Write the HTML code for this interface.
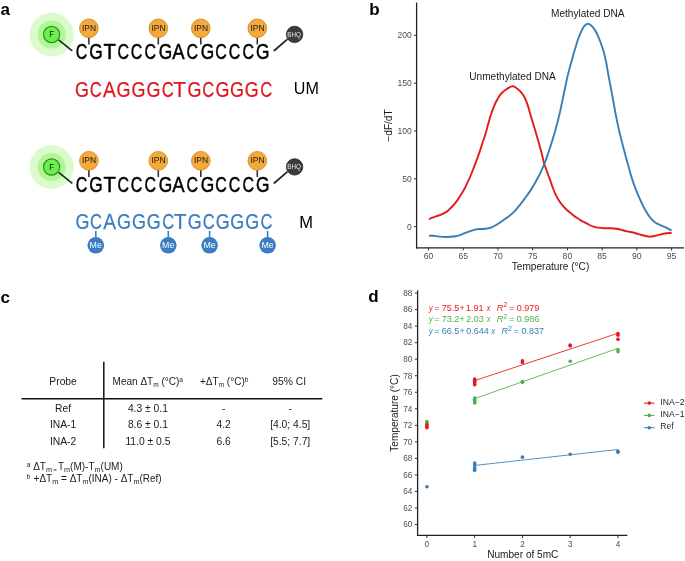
<!DOCTYPE html>
<html><head><meta charset="utf-8"><title>Figure</title><style>
html,body{margin:0;padding:0;background:#fff;overflow:hidden;width:685px;height:561px;}
svg{display:block;filter:blur(0.3px);font-family:"Liberation Sans", sans-serif;}
.pl{font-weight:bold;font-size:17px;fill:#000;}
.seq{font-size:20.5px;}
.lab{font-size:15.5px;fill:#000;}
.fl{font-size:9.2px;fill:#111;}
.ipn{font-size:8.5px;text-anchor:middle;fill:#1a1a1a;}
.bhq{font-size:6.3px;text-anchor:middle;fill:#e8e8e8;}
.me{font-size:9.8px;text-anchor:middle;fill:#fff;}
.tk{font-size:8.6px;fill:#4d4d4d;}
.tk2{font-size:8.2px;fill:#4d4d4d;}
.axl{font-size:10.1px;fill:#1a1a1a;}
.ann{font-size:10.1px;fill:#1a1a1a;}
.tb{font-size:10.3px;fill:#1a1a1a;}
.sub{font-size:6.5px;}
.sup{font-size:6.5px;}
.fn{font-size:10px;fill:#1a1a1a;}
.fsub{font-size:7.2px;}
.fsub2{font-size:6px;}
.fsup{font-size:6.5px;fill:#1a1a1a;}
.eq{font-size:8.6px;}
.esup{font-size:6px;}
.leg{font-size:8.6px;fill:#262626;}
</style></head>
<body><svg width="685" height="561" viewBox="0 0 685 561">
<text x="0.4" y="14.8" class="pl">a</text>
<text x="369.2" y="15.3" class="pl">b</text>
<text x="0.4" y="302.6" class="pl">c</text>
<text x="368.2" y="301.7" class="pl">d</text>
<circle cx="51.6" cy="34.5" r="22" fill="#dcfbcc"/>
<circle cx="51.6" cy="34.5" r="14" fill="#b2f594"/>
<line x1="58.6" y1="39.8" x2="72.3" y2="50.8" stroke="#1e2a1e" stroke-width="1.7"/>
<circle cx="51.6" cy="34.5" r="8.1" fill="#6cef4e" stroke="#2e8f22" stroke-width="1.2"/>
<text transform="translate(50.00,37.10) scale(0.85,1)" x="-0.75" class="fl">F</text>
<line x1="88.9" y1="36.0" x2="88.9" y2="44.5" stroke="#333" stroke-width="1.6"/>
<circle cx="88.9" cy="28.3" r="9.3" fill="#f5a93a" stroke="#dc8e26" stroke-width="1"/>
<text x="89.1" y="30.9" class="ipn">IPN</text>
<line x1="158.3" y1="36.0" x2="158.3" y2="44.5" stroke="#333" stroke-width="1.6"/>
<circle cx="158.3" cy="28.3" r="9.3" fill="#f5a93a" stroke="#dc8e26" stroke-width="1"/>
<text x="158.5" y="30.9" class="ipn">IPN</text>
<line x1="200.8" y1="36.0" x2="200.8" y2="44.5" stroke="#333" stroke-width="1.6"/>
<circle cx="200.8" cy="28.3" r="9.3" fill="#f5a93a" stroke="#dc8e26" stroke-width="1"/>
<text x="201.0" y="30.9" class="ipn">IPN</text>
<line x1="257.3" y1="36.0" x2="257.3" y2="44.5" stroke="#333" stroke-width="1.6"/>
<circle cx="257.3" cy="28.3" r="9.3" fill="#f5a93a" stroke="#dc8e26" stroke-width="1"/>
<text x="257.5" y="30.9" class="ipn">IPN</text>
<line x1="273.8" y1="51.0" x2="287.5" y2="39.2" stroke="#222" stroke-width="1.7"/>
<circle cx="294.6" cy="34.4" r="8.2" fill="#3c3c3c" stroke="#262626" stroke-width="0.8"/>
<text x="294.2" y="36.8" class="bhq">BHQ</text>
<text transform="translate(76.50,59.35) scale(0.7487,1)" x="-1.08" style="font-size:21.30px" fill="#000" stroke="#000" stroke-width="0.5">C</text>
<text transform="translate(90.10,59.35) scale(0.8126,1)" x="-1.07" style="font-size:21.30px" fill="#000" stroke="#000" stroke-width="0.5">G</text>
<text transform="translate(104.00,59.35) scale(0.9466,1)" x="-0.48" style="font-size:21.30px" fill="#000" stroke="#000" stroke-width="0.5">T</text>
<text transform="translate(118.20,59.35) scale(0.7487,1)" x="-1.08" style="font-size:21.30px" fill="#000" stroke="#000" stroke-width="0.5">C</text>
<text transform="translate(131.60,59.35) scale(0.7487,1)" x="-1.08" style="font-size:21.30px" fill="#000" stroke="#000" stroke-width="0.5">C</text>
<text transform="translate(145.40,59.35) scale(0.7487,1)" x="-1.08" style="font-size:21.30px" fill="#000" stroke="#000" stroke-width="0.5">C</text>
<text transform="translate(159.70,59.35) scale(0.8126,1)" x="-1.07" style="font-size:21.30px" fill="#000" stroke="#000" stroke-width="0.5">G</text>
<text transform="translate(172.30,59.35) scale(0.8709,1)" x="-0.04" style="font-size:21.30px" fill="#000" stroke="#000" stroke-width="0.5">A</text>
<text transform="translate(187.30,59.35) scale(0.7487,1)" x="-1.08" style="font-size:21.30px" fill="#000" stroke="#000" stroke-width="0.5">C</text>
<text transform="translate(201.50,59.35) scale(0.8126,1)" x="-1.07" style="font-size:21.30px" fill="#000" stroke="#000" stroke-width="0.5">G</text>
<text transform="translate(216.00,59.35) scale(0.7487,1)" x="-1.08" style="font-size:21.30px" fill="#000" stroke="#000" stroke-width="0.5">C</text>
<text transform="translate(229.60,59.35) scale(0.7487,1)" x="-1.08" style="font-size:21.30px" fill="#000" stroke="#000" stroke-width="0.5">C</text>
<text transform="translate(243.20,59.35) scale(0.7487,1)" x="-1.08" style="font-size:21.30px" fill="#000" stroke="#000" stroke-width="0.5">C</text>
<text transform="translate(256.80,59.35) scale(0.8126,1)" x="-1.07" style="font-size:21.30px" fill="#000" stroke="#000" stroke-width="0.5">G</text>
<text transform="translate(75.90,96.80) scale(0.8414,1)" x="-1.07" style="font-size:21.30px" fill="#e3151d" stroke="#e3151d" stroke-width="0.25">G</text>
<text transform="translate(90.50,96.80) scale(0.7784,1)" x="-1.08" style="font-size:21.30px" fill="#e3151d" stroke="#e3151d" stroke-width="0.25">C</text>
<text transform="translate(103.00,96.80) scale(0.8992,1)" x="-0.04" style="font-size:21.30px" fill="#e3151d" stroke="#e3151d" stroke-width="0.25">A</text>
<text transform="translate(117.50,96.80) scale(0.8414,1)" x="-1.07" style="font-size:21.30px" fill="#e3151d" stroke="#e3151d" stroke-width="0.25">G</text>
<text transform="translate(132.40,96.80) scale(0.8414,1)" x="-1.07" style="font-size:21.30px" fill="#e3151d" stroke="#e3151d" stroke-width="0.25">G</text>
<text transform="translate(147.30,96.80) scale(0.8414,1)" x="-1.07" style="font-size:21.30px" fill="#e3151d" stroke="#e3151d" stroke-width="0.25">G</text>
<text transform="translate(162.60,96.80) scale(0.7784,1)" x="-1.08" style="font-size:21.30px" fill="#e3151d" stroke="#e3151d" stroke-width="0.25">C</text>
<text transform="translate(173.80,96.80) scale(0.9798,1)" x="-0.48" style="font-size:21.30px" fill="#e3151d" stroke="#e3151d" stroke-width="0.25">T</text>
<text transform="translate(188.30,96.80) scale(0.8414,1)" x="-1.07" style="font-size:21.30px" fill="#e3151d" stroke="#e3151d" stroke-width="0.25">G</text>
<text transform="translate(203.10,96.80) scale(0.7784,1)" x="-1.08" style="font-size:21.30px" fill="#e3151d" stroke="#e3151d" stroke-width="0.25">C</text>
<text transform="translate(216.30,96.80) scale(0.8414,1)" x="-1.07" style="font-size:21.30px" fill="#e3151d" stroke="#e3151d" stroke-width="0.25">G</text>
<text transform="translate(230.80,96.80) scale(0.8414,1)" x="-1.07" style="font-size:21.30px" fill="#e3151d" stroke="#e3151d" stroke-width="0.25">G</text>
<text transform="translate(245.70,96.80) scale(0.8414,1)" x="-1.07" style="font-size:21.30px" fill="#e3151d" stroke="#e3151d" stroke-width="0.25">G</text>
<text transform="translate(261.00,96.80) scale(0.7784,1)" x="-1.08" style="font-size:21.30px" fill="#e3151d" stroke="#e3151d" stroke-width="0.25">C</text>
<text x="293.85" y="93.9" class="lab" style="font-size:16.1px">UM</text>
<circle cx="51.6" cy="167.0" r="22" fill="#dcfbcc"/>
<circle cx="51.6" cy="167.0" r="14" fill="#b2f594"/>
<line x1="58.6" y1="172.3" x2="72.3" y2="183.3" stroke="#1e2a1e" stroke-width="1.7"/>
<circle cx="51.6" cy="167.0" r="8.1" fill="#6cef4e" stroke="#2e8f22" stroke-width="1.2"/>
<text transform="translate(50.00,169.60) scale(0.85,1)" x="-0.75" class="fl">F</text>
<line x1="88.9" y1="168.5" x2="88.9" y2="177.0" stroke="#333" stroke-width="1.6"/>
<circle cx="88.9" cy="160.8" r="9.3" fill="#f5a93a" stroke="#dc8e26" stroke-width="1"/>
<text x="89.1" y="163.4" class="ipn">IPN</text>
<line x1="158.3" y1="168.5" x2="158.3" y2="177.0" stroke="#333" stroke-width="1.6"/>
<circle cx="158.3" cy="160.8" r="9.3" fill="#f5a93a" stroke="#dc8e26" stroke-width="1"/>
<text x="158.5" y="163.4" class="ipn">IPN</text>
<line x1="200.8" y1="168.5" x2="200.8" y2="177.0" stroke="#333" stroke-width="1.6"/>
<circle cx="200.8" cy="160.8" r="9.3" fill="#f5a93a" stroke="#dc8e26" stroke-width="1"/>
<text x="201.0" y="163.4" class="ipn">IPN</text>
<line x1="257.3" y1="168.5" x2="257.3" y2="177.0" stroke="#333" stroke-width="1.6"/>
<circle cx="257.3" cy="160.8" r="9.3" fill="#f5a93a" stroke="#dc8e26" stroke-width="1"/>
<text x="257.5" y="163.4" class="ipn">IPN</text>
<line x1="273.8" y1="183.5" x2="287.5" y2="171.7" stroke="#222" stroke-width="1.7"/>
<circle cx="294.6" cy="166.9" r="8.2" fill="#3c3c3c" stroke="#262626" stroke-width="0.8"/>
<text x="294.2" y="169.3" class="bhq">BHQ</text>
<text transform="translate(76.50,191.85) scale(0.7487,1)" x="-1.08" style="font-size:21.30px" fill="#000" stroke="#000" stroke-width="0.5">C</text>
<text transform="translate(90.10,191.85) scale(0.8126,1)" x="-1.07" style="font-size:21.30px" fill="#000" stroke="#000" stroke-width="0.5">G</text>
<text transform="translate(104.00,191.85) scale(0.9466,1)" x="-0.48" style="font-size:21.30px" fill="#000" stroke="#000" stroke-width="0.5">T</text>
<text transform="translate(118.20,191.85) scale(0.7487,1)" x="-1.08" style="font-size:21.30px" fill="#000" stroke="#000" stroke-width="0.5">C</text>
<text transform="translate(131.60,191.85) scale(0.7487,1)" x="-1.08" style="font-size:21.30px" fill="#000" stroke="#000" stroke-width="0.5">C</text>
<text transform="translate(145.40,191.85) scale(0.7487,1)" x="-1.08" style="font-size:21.30px" fill="#000" stroke="#000" stroke-width="0.5">C</text>
<text transform="translate(159.70,191.85) scale(0.8126,1)" x="-1.07" style="font-size:21.30px" fill="#000" stroke="#000" stroke-width="0.5">G</text>
<text transform="translate(172.30,191.85) scale(0.8709,1)" x="-0.04" style="font-size:21.30px" fill="#000" stroke="#000" stroke-width="0.5">A</text>
<text transform="translate(187.30,191.85) scale(0.7487,1)" x="-1.08" style="font-size:21.30px" fill="#000" stroke="#000" stroke-width="0.5">C</text>
<text transform="translate(201.50,191.85) scale(0.8126,1)" x="-1.07" style="font-size:21.30px" fill="#000" stroke="#000" stroke-width="0.5">G</text>
<text transform="translate(216.00,191.85) scale(0.7487,1)" x="-1.08" style="font-size:21.30px" fill="#000" stroke="#000" stroke-width="0.5">C</text>
<text transform="translate(229.60,191.85) scale(0.7487,1)" x="-1.08" style="font-size:21.30px" fill="#000" stroke="#000" stroke-width="0.5">C</text>
<text transform="translate(243.20,191.85) scale(0.7487,1)" x="-1.08" style="font-size:21.30px" fill="#000" stroke="#000" stroke-width="0.5">C</text>
<text transform="translate(256.80,191.85) scale(0.8126,1)" x="-1.07" style="font-size:21.30px" fill="#000" stroke="#000" stroke-width="0.5">G</text>
<text transform="translate(76.30,228.80) scale(0.8414,1)" x="-1.07" style="font-size:21.30px" fill="#3b7dc0" stroke="#3b7dc0" stroke-width="0.25">G</text>
<text transform="translate(90.90,228.80) scale(0.7784,1)" x="-1.08" style="font-size:21.30px" fill="#3b7dc0" stroke="#3b7dc0" stroke-width="0.25">C</text>
<text transform="translate(103.40,228.80) scale(0.8992,1)" x="-0.04" style="font-size:21.30px" fill="#3b7dc0" stroke="#3b7dc0" stroke-width="0.25">A</text>
<text transform="translate(117.90,228.80) scale(0.8414,1)" x="-1.07" style="font-size:21.30px" fill="#3b7dc0" stroke="#3b7dc0" stroke-width="0.25">G</text>
<text transform="translate(132.80,228.80) scale(0.8414,1)" x="-1.07" style="font-size:21.30px" fill="#3b7dc0" stroke="#3b7dc0" stroke-width="0.25">G</text>
<text transform="translate(147.70,228.80) scale(0.8414,1)" x="-1.07" style="font-size:21.30px" fill="#3b7dc0" stroke="#3b7dc0" stroke-width="0.25">G</text>
<text transform="translate(163.00,228.80) scale(0.7784,1)" x="-1.08" style="font-size:21.30px" fill="#3b7dc0" stroke="#3b7dc0" stroke-width="0.25">C</text>
<text transform="translate(174.20,228.80) scale(0.9798,1)" x="-0.48" style="font-size:21.30px" fill="#3b7dc0" stroke="#3b7dc0" stroke-width="0.25">T</text>
<text transform="translate(188.70,228.80) scale(0.8414,1)" x="-1.07" style="font-size:21.30px" fill="#3b7dc0" stroke="#3b7dc0" stroke-width="0.25">G</text>
<text transform="translate(203.50,228.80) scale(0.7784,1)" x="-1.08" style="font-size:21.30px" fill="#3b7dc0" stroke="#3b7dc0" stroke-width="0.25">C</text>
<text transform="translate(216.70,228.80) scale(0.8414,1)" x="-1.07" style="font-size:21.30px" fill="#3b7dc0" stroke="#3b7dc0" stroke-width="0.25">G</text>
<text transform="translate(231.20,228.80) scale(0.8414,1)" x="-1.07" style="font-size:21.30px" fill="#3b7dc0" stroke="#3b7dc0" stroke-width="0.25">G</text>
<text transform="translate(246.10,228.80) scale(0.8414,1)" x="-1.07" style="font-size:21.30px" fill="#3b7dc0" stroke="#3b7dc0" stroke-width="0.25">G</text>
<text transform="translate(261.40,228.80) scale(0.7784,1)" x="-1.08" style="font-size:21.30px" fill="#3b7dc0" stroke="#3b7dc0" stroke-width="0.25">C</text>
<text x="299.15" y="227.8" class="lab" style="font-size:16.5px">M</text>
<line x1="95.8" y1="231" x2="95.8" y2="238" stroke="#3b7dc0" stroke-width="1.6"/>
<circle cx="95.8" cy="245.3" r="8.3" fill="#3b7dc0"/>
<text transform="translate(95.70,248.2) scale(0.9,1)" class="me">Me</text>
<line x1="168.3" y1="231" x2="168.3" y2="238" stroke="#3b7dc0" stroke-width="1.6"/>
<circle cx="168.3" cy="245.3" r="8.3" fill="#3b7dc0"/>
<text transform="translate(168.20,248.2) scale(0.9,1)" class="me">Me</text>
<line x1="209.6" y1="231" x2="209.6" y2="238" stroke="#3b7dc0" stroke-width="1.6"/>
<circle cx="209.6" cy="245.3" r="8.3" fill="#3b7dc0"/>
<text transform="translate(209.50,248.2) scale(0.9,1)" class="me">Me</text>
<line x1="267.6" y1="231" x2="267.6" y2="238" stroke="#3b7dc0" stroke-width="1.6"/>
<circle cx="267.6" cy="245.3" r="8.3" fill="#3b7dc0"/>
<text transform="translate(267.50,248.2) scale(0.9,1)" class="me">Me</text>
<line x1="416.6" y1="2.5" x2="416.6" y2="248.45" stroke="#222" stroke-width="1.3"/>
<line x1="415.90" y1="247.8" x2="684" y2="247.8" stroke="#222" stroke-width="1.3"/>
<line x1="413.9" y1="226.70" x2="416.6" y2="226.70" stroke="#333" stroke-width="1"/>
<text x="411.8" y="229.80" class="tk" text-anchor="end">0</text>
<line x1="413.9" y1="178.85" x2="416.6" y2="178.85" stroke="#333" stroke-width="1"/>
<text x="411.8" y="181.95" class="tk" text-anchor="end">50</text>
<line x1="413.9" y1="131.00" x2="416.6" y2="131.00" stroke="#333" stroke-width="1"/>
<text x="411.8" y="134.10" class="tk" text-anchor="end">100</text>
<line x1="413.9" y1="83.15" x2="416.6" y2="83.15" stroke="#333" stroke-width="1"/>
<text x="411.8" y="86.25" class="tk" text-anchor="end">150</text>
<line x1="413.9" y1="35.30" x2="416.6" y2="35.30" stroke="#333" stroke-width="1"/>
<text x="411.8" y="38.40" class="tk" text-anchor="end">200</text>
<line x1="428.50" y1="247.8" x2="428.50" y2="250.5" stroke="#333" stroke-width="1"/>
<text x="428.50" y="259.4" class="tk" text-anchor="middle">60</text>
<line x1="463.23" y1="247.8" x2="463.23" y2="250.5" stroke="#333" stroke-width="1"/>
<text x="463.23" y="259.4" class="tk" text-anchor="middle">65</text>
<line x1="497.95" y1="247.8" x2="497.95" y2="250.5" stroke="#333" stroke-width="1"/>
<text x="497.95" y="259.4" class="tk" text-anchor="middle">70</text>
<line x1="532.67" y1="247.8" x2="532.67" y2="250.5" stroke="#333" stroke-width="1"/>
<text x="532.67" y="259.4" class="tk" text-anchor="middle">75</text>
<line x1="567.40" y1="247.8" x2="567.40" y2="250.5" stroke="#333" stroke-width="1"/>
<text x="567.40" y="259.4" class="tk" text-anchor="middle">80</text>
<line x1="602.12" y1="247.8" x2="602.12" y2="250.5" stroke="#333" stroke-width="1"/>
<text x="602.12" y="259.4" class="tk" text-anchor="middle">85</text>
<line x1="636.85" y1="247.8" x2="636.85" y2="250.5" stroke="#333" stroke-width="1"/>
<text x="636.85" y="259.4" class="tk" text-anchor="middle">90</text>
<line x1="671.58" y1="247.8" x2="671.58" y2="250.5" stroke="#333" stroke-width="1"/>
<text x="671.58" y="259.4" class="tk" text-anchor="middle">95</text>
<text x="550.5" y="270" class="axl" text-anchor="middle">Temperature (°C)</text>
<text transform="translate(392.4,125.5) rotate(-90)" class="axl" text-anchor="middle">−dF/dT</text>
<text x="469.3" y="79.7" class="ann">Unmethylated DNA</text>
<text x="551" y="17.3" class="ann">Methylated DNA</text>
<path d="M429.00,219.30 C429.55,219.03 431.02,218.22 432.30,217.70 C433.58,217.18 435.23,216.72 436.70,216.20 C438.17,215.68 439.40,215.37 441.10,214.60 C442.80,213.83 445.33,212.67 446.90,211.60 C448.47,210.53 449.28,209.42 450.50,208.20 C451.72,206.98 452.98,205.73 454.20,204.30 C455.42,202.87 456.58,201.35 457.80,199.60 C459.02,197.85 460.40,195.57 461.50,193.80 C462.60,192.03 463.40,190.90 464.40,189.00 C465.40,187.10 466.45,184.65 467.50,182.40 C468.55,180.15 469.63,178.00 470.70,175.50 C471.77,173.00 472.83,170.17 473.90,167.40 C474.97,164.63 476.12,161.57 477.10,158.90 C478.08,156.23 478.90,154.08 479.80,151.40 C480.70,148.72 481.59,145.56 482.50,142.80 C483.41,140.04 484.35,137.80 485.25,134.85 C486.15,131.90 487.06,128.11 487.90,125.10 C488.74,122.09 489.48,119.42 490.30,116.80 C491.12,114.18 491.90,111.78 492.80,109.40 C493.70,107.02 494.63,104.70 495.70,102.50 C496.77,100.30 498.05,97.90 499.20,96.20 C500.35,94.50 501.47,93.40 502.60,92.30 C503.73,91.20 504.85,90.42 506.00,89.60 C507.15,88.78 508.52,87.93 509.50,87.40 C510.48,86.87 511.08,86.53 511.90,86.40 C512.72,86.27 513.50,86.20 514.40,86.60 C515.30,87.00 516.27,87.97 517.30,88.80 C518.33,89.63 519.42,90.23 520.60,91.60 C521.78,92.97 523.22,94.75 524.40,97.00 C525.58,99.25 526.58,101.75 527.70,105.10 C528.82,108.45 529.98,113.32 531.10,117.10 C532.22,120.88 533.25,123.98 534.40,127.80 C535.55,131.62 536.88,136.08 538.00,140.00 C539.12,143.92 540.05,147.33 541.10,151.30 C542.15,155.27 543.22,160.15 544.30,163.80 C545.38,167.45 546.58,170.37 547.60,173.20 C548.62,176.03 549.55,178.42 550.40,180.80 C551.25,183.18 551.88,185.33 552.70,187.50 C553.52,189.67 554.27,191.63 555.30,193.80 C556.33,195.97 557.55,198.42 558.90,200.50 C560.25,202.58 561.92,204.58 563.40,206.30 C564.88,208.02 566.32,209.43 567.80,210.80 C569.28,212.17 570.82,213.33 572.30,214.50 C573.78,215.67 575.22,216.78 576.70,217.80 C578.18,218.82 579.72,219.75 581.20,220.60 C582.68,221.45 584.20,222.17 585.60,222.90 C587.00,223.63 588.28,224.38 589.60,225.00 C590.92,225.62 592.15,226.17 593.50,226.60 C594.85,227.03 595.90,227.33 597.70,227.60 C599.50,227.87 602.10,228.10 604.30,228.20 C606.50,228.30 608.83,228.12 610.90,228.20 C612.97,228.28 615.10,228.47 616.70,228.70 C618.30,228.93 618.78,229.17 620.50,229.60 C622.22,230.03 624.60,230.73 627.00,231.30 C629.40,231.87 632.48,232.38 634.90,233.00 C637.32,233.62 639.30,234.42 641.50,235.00 C643.70,235.58 646.13,236.28 648.10,236.50 C650.07,236.72 651.33,236.62 653.30,236.30 C655.27,235.98 657.70,235.10 659.90,234.60 C662.10,234.10 664.55,233.57 666.50,233.30 C668.45,233.03 670.75,233.05 671.60,233.00" fill="none" stroke="#E41A1C" stroke-width="1.9" stroke-linejoin="round"/>
<path d="M429.10,235.80 C429.78,235.80 431.55,235.67 433.20,235.80 C434.85,235.93 436.87,236.40 439.00,236.60 C441.13,236.80 443.27,237.05 446.00,237.00 C448.73,236.95 452.87,236.70 455.40,236.30 C457.93,235.90 459.07,235.33 461.20,234.60 C463.33,233.87 465.87,232.73 468.20,231.90 C470.53,231.07 473.25,230.08 475.20,229.60 C477.15,229.12 478.15,229.13 479.90,229.00 C481.65,228.87 483.75,229.08 485.70,228.80 C487.65,228.52 489.65,228.05 491.60,227.30 C493.55,226.55 495.18,225.68 497.40,224.30 C499.62,222.92 502.83,220.45 504.90,219.00 C506.97,217.55 508.17,216.90 509.80,215.60 C511.43,214.30 513.07,212.92 514.70,211.20 C516.33,209.48 517.97,207.35 519.60,205.30 C521.23,203.25 522.87,201.10 524.50,198.90 C526.13,196.70 527.77,194.55 529.40,192.10 C531.03,189.65 532.87,186.63 534.30,184.20 C535.73,181.77 536.87,179.65 538.00,177.50 C539.13,175.35 540.05,173.58 541.10,171.30 C542.15,169.02 543.25,166.42 544.30,163.80 C545.35,161.18 546.37,158.52 547.40,155.60 C548.43,152.68 549.47,149.52 550.50,146.30 C551.53,143.08 552.55,139.85 553.60,136.30 C554.65,132.75 555.68,129.28 556.80,125.00 C557.92,120.72 558.85,117.15 560.30,110.60 C561.75,104.05 564.22,91.73 565.50,85.70 C566.78,79.67 567.13,77.98 568.00,74.40 C568.87,70.82 569.80,67.50 570.70,64.20 C571.60,60.90 572.50,57.72 573.40,54.60 C574.30,51.48 575.22,48.35 576.10,45.50 C576.98,42.65 577.82,39.90 578.70,37.50 C579.58,35.10 580.42,33.07 581.40,31.10 C582.38,29.13 583.53,26.92 584.60,25.70 C585.67,24.48 586.73,23.88 587.80,23.80 C588.87,23.72 589.93,24.35 591.00,25.20 C592.07,26.05 593.12,27.30 594.20,28.90 C595.28,30.50 596.42,32.48 597.50,34.80 C598.58,37.12 599.63,39.85 600.70,42.80 C601.77,45.75 602.98,49.22 603.90,52.50 C604.82,55.78 605.42,58.57 606.20,62.50 C606.98,66.43 607.75,71.45 608.60,76.10 C609.45,80.75 610.42,85.65 611.30,90.40 C612.18,95.15 613.02,99.85 613.90,104.60 C614.78,109.35 615.70,114.43 616.60,118.90 C617.50,123.37 618.25,126.93 619.30,131.40 C620.35,135.87 621.72,141.08 622.90,145.70 C624.08,150.32 625.43,155.53 626.40,159.10 C627.37,162.67 627.78,163.88 628.70,167.10 C629.62,170.32 630.70,174.65 631.90,178.40 C633.10,182.15 634.43,185.85 635.90,189.60 C637.37,193.35 639.10,197.42 640.70,200.90 C642.30,204.38 643.88,207.68 645.50,210.50 C647.12,213.32 648.78,215.78 650.40,217.80 C652.02,219.82 653.60,221.40 655.20,222.60 C656.80,223.80 658.35,224.25 660.00,225.00 C661.65,225.75 663.17,226.17 665.10,227.10 C667.03,228.03 670.52,230.02 671.60,230.60" fill="none" stroke="#377EB8" stroke-width="1.9" stroke-linejoin="round"/>
<line x1="103.8" y1="361.7" x2="103.8" y2="448.3" stroke="#111" stroke-width="1.5"/>
<line x1="21.5" y1="398.7" x2="322.3" y2="398.7" stroke="#111" stroke-width="1.5"/>
<text x="63.1" y="385.4" class="tb" text-anchor="middle">Probe</text>
<text x="112.6" y="385.4" class="tb" style="font-size:10px">Mean ΔT<tspan class="sub" dy="2">m</tspan><tspan dy="-2"> (°C)</tspan><tspan class="sup" dy="-3.5">a</tspan></text>
<text x="200" y="385.4" class="tb" style="font-size:10px">+ΔT<tspan class="sub" dy="2">m</tspan><tspan dy="-2"> (°C)</tspan><tspan class="sup" dy="-3.5">b</tspan></text>
<text x="289.2" y="385.4" class="tb" text-anchor="middle">95% CI</text>
<text x="63.1" y="411.8" class="tb" text-anchor="middle">Ref</text>
<text x="147.9" y="411.8" class="tb" text-anchor="middle">4.3 ± 0.1</text>
<text x="223.7" y="411.8" class="tb" text-anchor="middle">-</text>
<text x="290.2" y="411.8" class="tb" text-anchor="middle">-</text>
<text x="63.1" y="428.2" class="tb" text-anchor="middle">INA-1</text>
<text x="147.9" y="428.2" class="tb" text-anchor="middle">8.6 ± 0.1</text>
<text x="223.7" y="428.2" class="tb" text-anchor="middle">4.2</text>
<text x="290.2" y="428.2" class="tb" text-anchor="middle">[4.0; 4.5]</text>
<text x="63.1" y="444.5" class="tb" text-anchor="middle">INA-2</text>
<text x="147.9" y="444.5" class="tb" text-anchor="middle">11.0 ± 0.5</text>
<text x="223.7" y="444.5" class="tb" text-anchor="middle">6.6</text>
<text x="290.2" y="444.5" class="tb" text-anchor="middle">[5.5; 7.7]</text>
<text x="26.8" y="467.0" class="fsup">a</text>
<text x="33.2" y="470.0" class="fn">ΔT<tspan class="fsub" dy="2.4">m</tspan><tspan class="fsub2" dx="1.2" dy="-0.6">=</tspan><tspan dx="1.3" dy="-1.8">T</tspan><tspan class="fsub" dy="2.4">m</tspan><tspan dy="-2.4">(M)-T</tspan><tspan class="fsub" dy="2.4">m</tspan><tspan dy="-2.4">(UM)</tspan></text>
<text x="26.8" y="478.6" class="fsup">b</text>
<text x="33.6" y="481.7" class="fn">+ΔT<tspan class="fsub" dy="2.4">m</tspan><tspan dy="-2.4"> = ΔT</tspan><tspan class="fsub" dy="2.4">m</tspan><tspan dy="-2.4">(INA) - ΔT</tspan><tspan class="fsub" dy="2.4">m</tspan><tspan dy="-2.4">(Ref)</tspan></text>
<line x1="417.6" y1="290.3" x2="417.6" y2="536.05" stroke="#222" stroke-width="1.3"/>
<line x1="416.90" y1="535.4" x2="627.4" y2="535.4" stroke="#222" stroke-width="1.3"/>
<line x1="414.9" y1="524.50" x2="417.6" y2="524.50" stroke="#333" stroke-width="1"/>
<text x="412.3" y="527.30" class="tk2" text-anchor="end">60</text>
<line x1="414.9" y1="507.97" x2="417.6" y2="507.97" stroke="#333" stroke-width="1"/>
<text x="412.3" y="510.77" class="tk2" text-anchor="end">62</text>
<line x1="414.9" y1="491.44" x2="417.6" y2="491.44" stroke="#333" stroke-width="1"/>
<text x="412.3" y="494.24" class="tk2" text-anchor="end">64</text>
<line x1="414.9" y1="474.91" x2="417.6" y2="474.91" stroke="#333" stroke-width="1"/>
<text x="412.3" y="477.71" class="tk2" text-anchor="end">66</text>
<line x1="414.9" y1="458.38" x2="417.6" y2="458.38" stroke="#333" stroke-width="1"/>
<text x="412.3" y="461.18" class="tk2" text-anchor="end">68</text>
<line x1="414.9" y1="441.85" x2="417.6" y2="441.85" stroke="#333" stroke-width="1"/>
<text x="412.3" y="444.65" class="tk2" text-anchor="end">70</text>
<line x1="414.9" y1="425.32" x2="417.6" y2="425.32" stroke="#333" stroke-width="1"/>
<text x="412.3" y="428.12" class="tk2" text-anchor="end">72</text>
<line x1="414.9" y1="408.79" x2="417.6" y2="408.79" stroke="#333" stroke-width="1"/>
<text x="412.3" y="411.59" class="tk2" text-anchor="end">74</text>
<line x1="414.9" y1="392.26" x2="417.6" y2="392.26" stroke="#333" stroke-width="1"/>
<text x="412.3" y="395.06" class="tk2" text-anchor="end">76</text>
<line x1="414.9" y1="375.73" x2="417.6" y2="375.73" stroke="#333" stroke-width="1"/>
<text x="412.3" y="378.53" class="tk2" text-anchor="end">78</text>
<line x1="414.9" y1="359.20" x2="417.6" y2="359.20" stroke="#333" stroke-width="1"/>
<text x="412.3" y="362.00" class="tk2" text-anchor="end">80</text>
<line x1="414.9" y1="342.67" x2="417.6" y2="342.67" stroke="#333" stroke-width="1"/>
<text x="412.3" y="345.47" class="tk2" text-anchor="end">82</text>
<line x1="414.9" y1="326.14" x2="417.6" y2="326.14" stroke="#333" stroke-width="1"/>
<text x="412.3" y="328.94" class="tk2" text-anchor="end">84</text>
<line x1="414.9" y1="309.61" x2="417.6" y2="309.61" stroke="#333" stroke-width="1"/>
<text x="412.3" y="312.41" class="tk2" text-anchor="end">86</text>
<line x1="414.9" y1="293.08" x2="417.6" y2="293.08" stroke="#333" stroke-width="1"/>
<text x="412.3" y="295.88" class="tk2" text-anchor="end">88</text>
<line x1="426.90" y1="535.4" x2="426.90" y2="538.1" stroke="#333" stroke-width="1"/>
<text x="426.90" y="547" class="tk2" text-anchor="middle">0</text>
<line x1="474.67" y1="535.4" x2="474.67" y2="538.1" stroke="#333" stroke-width="1"/>
<text x="474.67" y="547" class="tk2" text-anchor="middle">1</text>
<line x1="522.44" y1="535.4" x2="522.44" y2="538.1" stroke="#333" stroke-width="1"/>
<text x="522.44" y="547" class="tk2" text-anchor="middle">2</text>
<line x1="570.21" y1="535.4" x2="570.21" y2="538.1" stroke="#333" stroke-width="1"/>
<text x="570.21" y="547" class="tk2" text-anchor="middle">3</text>
<line x1="617.98" y1="535.4" x2="617.98" y2="538.1" stroke="#333" stroke-width="1"/>
<text x="617.98" y="547" class="tk2" text-anchor="middle">4</text>
<text x="522.8" y="557.8" class="axl" text-anchor="middle">Number of 5mC</text>
<text transform="translate(397.6,413) rotate(-90)" class="axl" text-anchor="middle">Temperature (°C)</text>
<line x1="474.67" y1="380.61" x2="617.98" y2="333.25" stroke="#E41A1C" stroke-width="0.85"/>
<line x1="474.67" y1="398.62" x2="617.98" y2="348.29" stroke="#4DAF4A" stroke-width="0.85"/>
<line x1="474.67" y1="465.45" x2="617.98" y2="449.49" stroke="#377EB8" stroke-width="0.85"/>
<circle cx="426.90" cy="486.81" r="1.8" fill="#377EB8"/>
<circle cx="474.67" cy="462.93" r="1.8" fill="#377EB8"/>
<circle cx="474.67" cy="464.99" r="1.8" fill="#377EB8"/>
<circle cx="474.67" cy="467.47" r="1.8" fill="#377EB8"/>
<circle cx="474.67" cy="469.12" r="1.8" fill="#377EB8"/>
<circle cx="474.67" cy="470.36" r="1.8" fill="#377EB8"/>
<circle cx="522.44" cy="457.14" r="1.8" fill="#377EB8"/>
<circle cx="570.21" cy="454.25" r="1.8" fill="#377EB8"/>
<circle cx="617.98" cy="451.35" r="1.8" fill="#377EB8"/>
<circle cx="617.98" cy="452.18" r="1.8" fill="#377EB8"/>
<circle cx="426.90" cy="421.60" r="1.8" fill="#4DAF4A"/>
<circle cx="426.90" cy="422.84" r="1.8" fill="#4DAF4A"/>
<circle cx="474.67" cy="398.05" r="1.8" fill="#4DAF4A"/>
<circle cx="474.67" cy="399.29" r="1.8" fill="#4DAF4A"/>
<circle cx="474.67" cy="400.52" r="1.8" fill="#4DAF4A"/>
<circle cx="474.67" cy="401.76" r="1.8" fill="#4DAF4A"/>
<circle cx="474.67" cy="403.00" r="1.8" fill="#4DAF4A"/>
<circle cx="522.44" cy="381.52" r="1.8" fill="#4DAF4A"/>
<circle cx="522.44" cy="382.34" r="1.8" fill="#4DAF4A"/>
<circle cx="570.21" cy="361.27" r="1.8" fill="#4DAF4A"/>
<circle cx="617.98" cy="349.70" r="1.8" fill="#4DAF4A"/>
<circle cx="617.98" cy="351.76" r="1.8" fill="#4DAF4A"/>
<circle cx="426.90" cy="424.49" r="1.8" fill="#E41A1C"/>
<circle cx="426.90" cy="426.15" r="1.8" fill="#E41A1C"/>
<circle cx="426.90" cy="427.80" r="1.8" fill="#E41A1C"/>
<circle cx="474.67" cy="379.04" r="1.8" fill="#E41A1C"/>
<circle cx="474.67" cy="380.28" r="1.8" fill="#E41A1C"/>
<circle cx="474.67" cy="381.52" r="1.8" fill="#E41A1C"/>
<circle cx="474.67" cy="382.76" r="1.8" fill="#E41A1C"/>
<circle cx="474.67" cy="384.00" r="1.8" fill="#E41A1C"/>
<circle cx="474.67" cy="384.82" r="1.8" fill="#E41A1C"/>
<circle cx="522.44" cy="360.85" r="1.8" fill="#E41A1C"/>
<circle cx="522.44" cy="362.51" r="1.8" fill="#E41A1C"/>
<circle cx="570.21" cy="345.15" r="1.8" fill="#E41A1C"/>
<circle cx="570.21" cy="345.98" r="1.8" fill="#E41A1C"/>
<circle cx="617.98" cy="333.58" r="1.8" fill="#E41A1C"/>
<circle cx="617.98" cy="335.23" r="1.8" fill="#E41A1C"/>
<circle cx="617.98" cy="339.36" r="1.8" fill="#E41A1C"/>
<text transform="translate(428.60,310.50) scale(0.80,1)" x="0.51" fill="#E41A1C" style="font-size:9.00px;font-style:italic">y</text>
<text x="434.16" y="310.50" fill="#E41A1C" style="font-size:9.00px">=</text>
<text x="441.64" y="310.50" fill="#E41A1C" style="font-size:9.00px">75.5</text>
<text x="459.56" y="310.50" fill="#E41A1C" style="font-size:9.00px">+</text>
<text x="465.92" y="310.50" fill="#E41A1C" style="font-size:9.00px">1.91</text>
<text transform="translate(486.40,310.50) scale(0.80,1)" x="0.36" fill="#E41A1C" style="font-size:9.00px;font-style:italic">x</text>
<text x="496.82" y="310.50" fill="#E41A1C" style="font-size:9.00px;font-style:italic">R</text>
<text x="503.25" y="307.20" fill="#E41A1C" style="font-size:7.00px">2</text>
<text x="508.96" y="310.50" fill="#E41A1C" style="font-size:9.00px">=</text>
<text x="516.65" y="310.50" fill="#E41A1C" style="font-size:9.00px">0.979</text>
<text transform="translate(428.60,322.20) scale(0.80,1)" x="0.51" fill="#4DAF4A" style="font-size:9.00px;font-style:italic">y</text>
<text x="434.16" y="322.20" fill="#4DAF4A" style="font-size:9.00px">=</text>
<text x="441.64" y="322.20" fill="#4DAF4A" style="font-size:9.00px">73.2</text>
<text x="459.56" y="322.20" fill="#4DAF4A" style="font-size:9.00px">+</text>
<text x="466.15" y="322.20" fill="#4DAF4A" style="font-size:9.00px">2.03</text>
<text transform="translate(486.40,322.20) scale(0.80,1)" x="0.36" fill="#4DAF4A" style="font-size:9.00px;font-style:italic">x</text>
<text x="496.82" y="322.20" fill="#4DAF4A" style="font-size:9.00px;font-style:italic">R</text>
<text x="503.25" y="318.90" fill="#4DAF4A" style="font-size:7.00px">2</text>
<text x="508.96" y="322.20" fill="#4DAF4A" style="font-size:9.00px">=</text>
<text x="516.65" y="322.20" fill="#4DAF4A" style="font-size:9.00px">0.986</text>
<text transform="translate(428.60,334.00) scale(0.80,1)" x="0.51" fill="#377EB8" style="font-size:9.00px;font-style:italic">y</text>
<text x="434.16" y="334.00" fill="#377EB8" style="font-size:9.00px">=</text>
<text x="441.64" y="334.00" fill="#377EB8" style="font-size:9.00px">66.5</text>
<text x="459.56" y="334.00" fill="#377EB8" style="font-size:9.00px">+</text>
<text x="466.25" y="334.00" fill="#377EB8" style="font-size:9.00px">0.644</text>
<text transform="translate(491.20,334.00) scale(0.80,1)" x="0.36" fill="#377EB8" style="font-size:9.00px;font-style:italic">x</text>
<text x="501.62" y="334.00" fill="#377EB8" style="font-size:9.00px;font-style:italic">R</text>
<text x="508.05" y="330.70" fill="#377EB8" style="font-size:7.00px">2</text>
<text x="513.76" y="334.00" fill="#377EB8" style="font-size:9.00px">=</text>
<text x="521.45" y="334.00" fill="#377EB8" style="font-size:9.00px">0.837</text>
<line x1="644" y1="403.10" x2="654.5" y2="403.10" stroke="#E41A1C" stroke-width="1"/>
<circle cx="649.3" cy="403.10" r="1.8" fill="#E41A1C"/>
<text x="660.3" y="404.70" class="leg">INA−2</text>
<line x1="644" y1="415.40" x2="654.5" y2="415.40" stroke="#4DAF4A" stroke-width="1"/>
<circle cx="649.3" cy="415.40" r="1.8" fill="#4DAF4A"/>
<text x="660.3" y="417.00" class="leg">INA−1</text>
<line x1="644" y1="427.70" x2="654.5" y2="427.70" stroke="#377EB8" stroke-width="1"/>
<circle cx="649.3" cy="427.70" r="1.8" fill="#377EB8"/>
<text x="660.3" y="429.30" class="leg">Ref</text>
</svg></body></html>
